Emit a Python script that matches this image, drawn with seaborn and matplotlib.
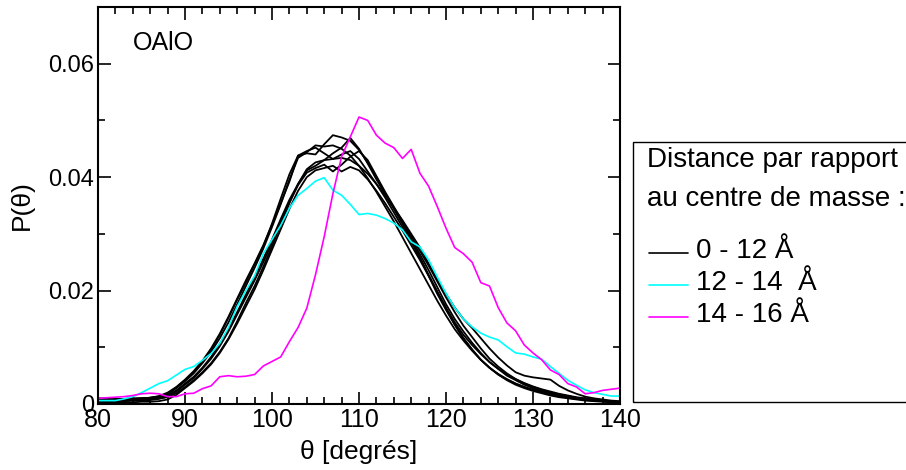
import numpy as np
import pandas as pd
import matplotlib
matplotlib.use("Agg")
import matplotlib.pyplot as plt
from matplotlib.lines import Line2D
from matplotlib.patches import Rectangle
from matplotlib.ticker import MultipleLocator, FuncFormatter
import seaborn as sns

# angle grid (degrees)
theta = list(range(80, 141))

# P(theta) values in units of 1e-3
# black curves: shells between 0 and 12 A
black_1 = [1.0, 1.0, 0.9, 0.9, 1.0, 1.0, 1.1, 1.3, 1.8, 2.9,
           4.2, 5.6, 7.4, 9.6, 12.2, 15.2, 18.4, 21.4, 24.6, 27.8,
           31.8, 36.2, 40.5, 43.8, 44.2, 44.0, 45.8, 47.4, 47.0, 46.4,
           44.8, 42.6, 40.0, 37.2, 34.6, 31.8, 28.8, 25.8, 22.6, 19.4,
           16.6, 14.0, 11.6, 9.6, 7.8, 6.4, 5.2, 4.3, 3.6, 3.0,
           2.5, 2.1, 1.8, 1.5, 1.2, 1.0, 0.8, 0.6, 0.5, 0.4, 0.3]
black_2 = [0.5, 0.5, 0.6, 0.6, 0.7, 0.8, 0.9, 1.1, 1.5, 2.4,
           3.6, 4.8, 6.4, 8.3, 10.6, 13.2, 16.2, 19.3, 22.4, 25.6,
           29.0, 32.6, 36.0, 38.8, 41.2, 42.0, 43.0, 44.2, 45.2, 46.9,
           45.0, 42.4, 39.6, 37.0, 34.4, 31.8, 29.2, 26.4, 23.6, 20.6,
           17.6, 15.0, 12.8, 10.8, 9.0, 7.4, 6.2, 5.2, 4.4, 3.7,
           3.1, 2.6, 2.2, 1.8, 1.5, 1.2, 1.0, 0.8, 0.6, 0.5, 0.4]
black_3 = [0.8, 0.8, 0.8, 0.9, 0.9, 1.0, 1.1, 1.4, 2.0, 3.0,
           4.3, 5.8, 7.6, 9.8, 12.4, 15.4, 18.6, 21.8, 24.8, 28.0,
           31.6, 35.4, 39.2, 43.8, 44.6, 45.2, 44.2, 43.2, 44.0, 44.6,
           43.2, 41.0, 38.8, 36.4, 33.8, 31.2, 28.6, 25.8, 22.8, 19.8,
           16.8, 14.0, 11.6, 9.6, 7.8, 6.4, 5.3, 4.4, 3.6, 3.0,
           2.5, 2.1, 1.7, 1.4, 1.1, 0.9, 0.7, 0.6, 0.5, 0.4, 0.3]
black_4 = [0.4, 0.4, 0.5, 0.5, 0.6, 0.6, 0.7, 0.9, 1.3, 2.2,
           3.4, 4.6, 6.2, 8.0, 10.2, 12.8, 15.8, 18.8, 21.8, 25.0,
           28.4, 32.0, 35.6, 38.6, 40.8, 41.6, 42.2, 41.0, 42.2, 43.6,
           44.6, 43.0, 40.2, 37.4, 34.8, 32.2, 29.6, 27.0, 24.4, 21.6,
           18.8, 16.2, 13.8, 11.8, 9.8, 8.0, 6.6, 5.4, 4.4, 3.6,
           3.0, 2.5, 2.0, 1.7, 1.4, 1.1, 0.9, 0.7, 0.6, 0.4, 0.3]
black_5 = [0.6, 0.6, 0.7, 0.7, 0.8, 0.8, 0.9, 1.0, 1.2, 1.9,
           3.0, 4.2, 5.6, 7.2, 9.2, 11.6, 14.6, 17.8, 20.8, 24.2,
           27.8, 31.6, 35.4, 38.8, 41.4, 42.6, 43.0, 43.2, 43.4, 43.0,
           42.0, 40.6, 38.8, 36.8, 34.6, 32.4, 30.0, 27.6, 24.8, 22.0,
           19.4, 17.0, 15.0, 13.4, 11.6, 9.8, 8.2, 6.8, 5.6, 5.0,
           4.7, 4.5, 4.3, 3.2, 2.4, 1.8, 1.3, 1.0, 0.8, 0.6, 0.5]
black_6 = [0.2, 0.2, 0.3, 0.3, 0.3, 0.4, 0.4, 0.5, 0.8, 1.6,
           2.8, 4.0, 5.4, 7.0, 9.0, 11.4, 14.2, 17.2, 20.2, 23.6,
           27.2, 30.8, 34.4, 37.6, 40.0, 41.2, 41.6, 42.0, 41.0, 41.8,
           41.2, 39.6, 37.6, 35.4, 33.0, 30.6, 28.0, 25.4, 22.6, 19.8,
           17.0, 14.4, 12.2, 10.4, 8.8, 7.4, 6.2, 5.0, 4.2, 3.4,
           2.8, 2.3, 1.9, 1.5, 1.2, 1.0, 0.8, 0.6, 0.5, 0.4, 0.3]
black_7 = [0.9, 0.9, 0.8, 0.8, 0.9, 1.0, 1.1, 1.3, 1.7, 2.8,
           4.0, 5.4, 7.2, 9.2, 11.6, 14.4, 17.6, 20.8, 24.0, 27.4,
           31.2, 35.2, 39.6, 43.4, 44.4, 45.6, 45.4, 45.6, 45.0, 43.8,
           42.0, 39.8, 37.4, 34.8, 32.2, 29.4, 26.6, 23.8, 21.0, 18.2,
           15.6, 13.2, 11.2, 9.4, 7.8, 6.4, 5.2, 4.2, 3.4, 2.8,
           2.3, 1.9, 1.5, 1.2, 1.0, 0.8, 0.6, 0.5, 0.4, 0.3, 0.2]

# 12 - 14 A shell
cyan_12_14 = [0.6, 0.6, 0.6, 0.9, 1.3, 2.0, 2.8, 3.6, 4.1, 5.1,
              6.1, 6.6, 7.7, 8.9, 10.7, 13.5, 17.2, 20.0, 22.6, 26.5,
              29.0, 31.5, 34.5, 36.8, 38.0, 39.3, 39.9, 37.7, 36.8, 35.2,
              33.4, 33.6, 33.3, 32.7, 31.9, 30.7, 28.6, 27.7, 25.4, 22.4,
              19.5, 17.0, 15.0, 13.6, 12.5, 11.8, 11.3, 10.1, 9.0, 8.8,
              8.3, 7.9, 6.6, 5.4, 4.2, 3.3, 2.5, 2.0, 1.7, 1.4, 1.4]

# 14 - 16 A shell
magenta_14_16 = [1.0, 1.1, 1.2, 1.3, 1.5, 1.8, 1.9, 1.8, 1.3, 1.3,
                 1.8, 1.9, 2.7, 3.2, 4.8, 5.0, 4.8, 4.9, 5.2, 6.7,
                 7.5, 8.3, 11.0, 13.5, 16.9, 22.8, 29.5, 37.1, 43.6, 47.1,
                 50.6, 50.0, 47.4, 46.0, 45.2, 43.3, 44.9, 40.7, 38.4, 34.8,
                 31.0, 27.6, 26.5, 25.0, 21.4, 20.8, 17.0, 14.3, 12.9, 10.4,
                 9.0, 7.8, 6.0, 5.2, 3.6, 3.0, 1.8, 2.0, 2.4, 2.6, 2.8]

black_curves = [black_1, black_2, black_3, black_4, black_5, black_6, black_7]
legend_labels = ["0 - 12 Å", "12 - 14  Å", "14 - 16 Å"]

sns.set_style("ticks")
plt.rcParams['font.family'] = ['Liberation Sans', 'DejaVu Sans']
plt.rcParams['text.color'] = 'black'
plt.rcParams['axes.labelcolor'] = 'black'

W, H = 906, 470
fig = plt.figure(figsize=(W / 100, H / 100), dpi=100)
ax = fig.add_axes([98 / W, 1 - 404 / H, (620 - 98) / W, (404 - 7) / H])

for curve in black_curves:
    df = pd.DataFrame({'theta': theta, 'p': np.array(curve) / 1000})
    sns.lineplot(data=df, x='theta', y='p', ax=ax, color='black', lw=1.3)

df_c = pd.DataFrame({'theta': theta, 'p': np.array(cyan_12_14) / 1000})
sns.lineplot(data=df_c, x='theta', y='p', ax=ax, color='#00ffff', lw=1.2)
df_m = pd.DataFrame({'theta': theta, 'p': np.array(magenta_14_16) / 1000})
sns.lineplot(data=df_m, x='theta', y='p', ax=ax, color='#ff00ff', lw=1.2)

ax.set_xlim(80, 140)
ax.set_ylim(0, 0.07)
ax.xaxis.set_major_locator(MultipleLocator(10))
ax.xaxis.set_minor_locator(MultipleLocator(2))
ax.yaxis.set_major_locator(MultipleLocator(0.02))
ax.yaxis.set_minor_locator(MultipleLocator(0.01))
ax.yaxis.set_major_formatter(FuncFormatter(lambda v, p: '0' if v == 0 else f'{v:.2f}'))
ax.tick_params(which='both', direction='in', top=True, right=True,
               labelsize=17, width=1.2, colors='black', labelcolor='black')
ax.tick_params(axis='x', which='major', labelsize=18, pad=3)
ax.tick_params(axis='y', which='major', pad=3)
ax.tick_params(which='major', length=9)
ax.tick_params(which='minor', length=5)
for sp in ax.spines.values():
    sp.set_linewidth(1.5)
    sp.set_color('black')

ax.set_xlabel('θ [degrés]', fontsize=19, labelpad=6, color='black')
ax.set_ylabel('P(θ)', fontsize=19, labelpad=10, color='black')
ax.text(0.067, 0.91, 'OAlO', transform=ax.transAxes, fontsize=18,
        ha='left', va='center', color='black')

# legend box (runs past the right edge of the figure)
fig.add_artist(Rectangle((633 / W, 1 - 402 / H), 300 / W, (402 - 142) / H,
                         transform=fig.transFigure, fill=False,
                         edgecolor='black', lw=1.0, clip_on=False))
fig.text(647 / W, 1 - 160 / H, 'Distance par rapport', fontsize=20,
         ha='left', va='center', color='black')
fig.text(647 / W, 1 - 199 / H, 'au centre de masse :', fontsize=20,
         ha='left', va='center', color='black')
leg_colors = ['black', '#00ffff', '#ff00ff']
for lab, col, yy in zip(legend_labels, leg_colors, [253, 285, 317]):
    fig.add_artist(Line2D([649 / W, 688 / W], [1 - yy / H, 1 - yy / H],
                          transform=fig.transFigure, color=col, lw=1.2))
    fig.text(696 / W, 1 - (yy - 2) / H, lab, fontsize=20,
             ha='left', va='center', color='black')

fig.savefig('out.png', dpi=100)
